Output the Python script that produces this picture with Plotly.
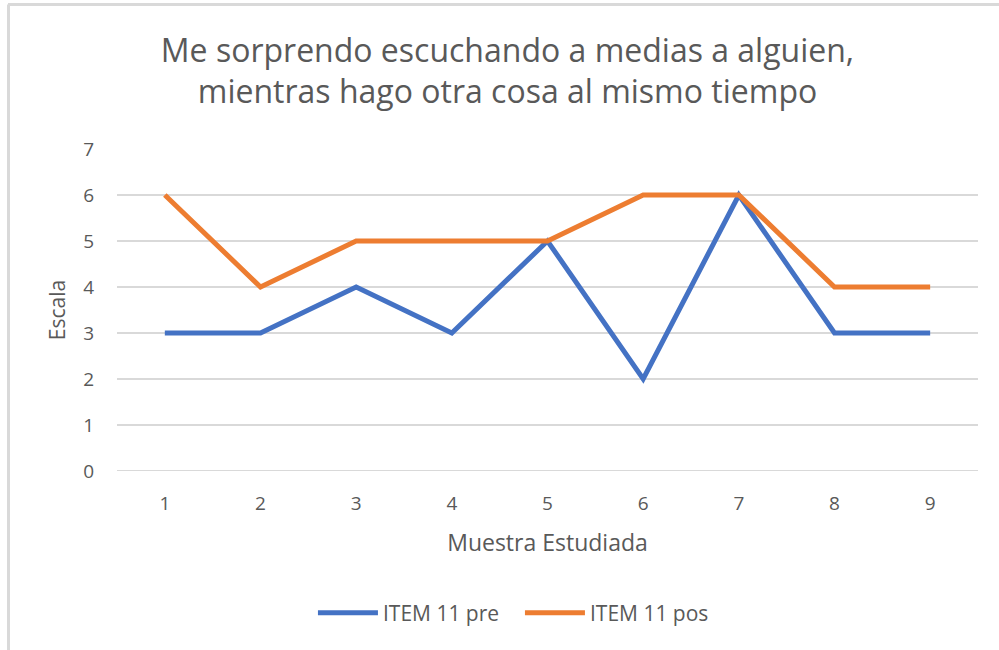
import plotly.graph_objects as go

# data
muestra = [1, 2, 3, 4, 5, 6, 7, 8, 9]
item11_pre = [3, 3, 4, 3, 5, 2, 6, 3, 3]
item11_pos = [6, 4, 5, 5, 5, 6, 6, 4, 4]

GRAY = "#595959"
FONT = "Open Sans"

fig = go.Figure()
fig.add_trace(go.Scatter(x=muestra, y=item11_pre, mode="lines", name="ITEM 11 pre",
                         line=dict(color="#4472C4", width=5)))
fig.add_trace(go.Scatter(x=muestra, y=item11_pos, mode="lines", name="ITEM 11 pos",
                         line=dict(color="#ED7D31", width=5)))

# plot area in pixels: x 117..978, y 149..471
L, R, T, B = 117, 978, 149, 471
W, H = R - L, B - T

def px_x(p):
    return (p - L) / W

def px_y(p):
    return (B - p) / H

# light frame on top and left, like the cropped screenshot
fig.add_shape(type="line", xref="paper", yref="paper",
              x0=px_x(8), x1=px_x(1010), y0=px_y(4.5), y1=px_y(4.5),
              line=dict(color="#d9d9d9", width=3))
fig.add_shape(type="line", xref="paper", yref="paper",
              x0=px_x(8.5), x1=px_x(8.5), y0=px_y(4.5), y1=px_y(660),
              line=dict(color="#d9d9d9", width=3))
# gridline at 0
fig.add_shape(type="line", xref="paper", yref="y", x0=0, x1=1, y0=0, y1=0,
              line=dict(color="#d9d9d9", width=2), layer="below")

fig.update_layout(
    width=999, height=650,
    margin=dict(l=L, r=999 - R, t=T, b=650 - B),
    paper_bgcolor="white", plot_bgcolor="white",
    font=dict(family=FONT, color=GRAY, size=19),
    title=dict(text="Me sorprendo escuchando a medias a alguien,<br>mientras hago otra cosa al mismo tiempo",
               x=0.508, xanchor="center", y=0.905, yanchor="middle",
               font=dict(size=32, color=GRAY)),
    xaxis=dict(range=[0.5, 9.5], tickvals=muestra, showgrid=False, zeroline=False,
               showline=False, ticks="", ticklabelstandoff=19,
               title=dict(text="Muestra Estudiada", font=dict(size=23), standoff=19)),
    yaxis=dict(range=[0, 7], dtick=1, showgrid=True, gridcolor="#d9d9d9", gridwidth=2,
               zeroline=False, showline=False, ticks="", ticklabelstandoff=22,
               title=dict(text="Escala", font=dict(size=21), standoff=11)),
    legend=dict(orientation="h", x=0.468, xanchor="center", y=px_y(613), yanchor="middle",
                font=dict(size=21), itemwidth=60, entrywidth=132),
    showlegend=True,
)

fig.write_html("out.html", config={"displayModeBar": False},
               post_script="document.body.style.margin='0';")
